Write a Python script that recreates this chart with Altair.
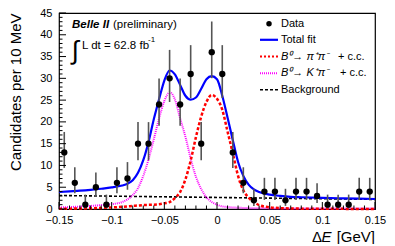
import altair as alt
import pandas as pd

# ---------------- data ----------------
bin_x = [-0.145, -0.135, -0.125, -0.115, -0.105, -0.095, -0.085, -0.075, -0.065, -0.055,
         -0.045, -0.035, -0.025, -0.015, -0.005, 0.005, 0.015, 0.025, 0.035, 0.045,
         0.055, 0.065, 0.075, 0.085, 0.095, 0.105, 0.115, 0.125, 0.135, 0.145]
counts = [13, 6, 1, 5, 1, 6, 7, 15, 15, 24, 30, 24, 31, 15, 36, 31, 13, 6, 2, 4,
          4, 2, 4, 4, 3, 1, 1, 1, 4, 4]
err_low = [9.44, 3.62, 0.17, 2.84, 0.17, 3.62, 4.42, 11.17, 11.17, 19.14,
           24.56, 19.14, 25.47, 11.17, 30.03, 25.47, 9.44, 3.62, 0.71, 2.09,
           2.09, 0.71, 2.09, 2.09, 1.37, 0.17, 0.17, 0.17, 2.09, 2.09]
err_high = [17.69, 9.58, 3.30, 8.38, 3.30, 9.58, 10.77, 19.95, 19.95, 29.96,
            36.53, 29.96, 37.62, 19.95, 43.05, 37.62, 17.69, 9.58, 4.64, 7.16,
            7.16, 4.64, 7.16, 7.16, 5.92, 3.30, 3.30, 3.30, 7.16, 7.16]

curve_x = [-0.15, -0.14, -0.13, -0.12, -0.11, -0.10, -0.09, -0.085, -0.08, -0.075,
           -0.07, -0.065, -0.06, -0.055, -0.05, -0.045, -0.04, -0.035, -0.03, -0.025,
           -0.02, -0.015, -0.01, -0.005, 0.0, 0.005, 0.01, 0.015, 0.02, 0.025,
           0.03, 0.035, 0.04, 0.05, 0.06, 0.07, 0.08, 0.10, 0.12, 0.15]
total_fit = [3.9, 4.05, 4.2, 4.4, 4.65, 4.95, 5.4, 5.8, 6.6, 8.3,
             11.2, 15.4, 20.6, 25.2, 29.5, 31.8, 30.9, 28.5, 26.0, 25.1,
             25.6, 27.6, 29.8, 30.5, 29.8, 26.0, 21.0, 15.8, 10.8, 7.6,
             5.6, 4.5, 3.9, 3.3, 3.0, 2.8, 2.7, 2.55, 2.45, 2.3]
pipi = [0.05, 0.08, 0.12, 0.18, 0.25, 0.35, 0.5, 0.6, 0.7, 0.8,
        0.9, 0.95, 1.0, 1.1, 1.3, 1.6, 2.5, 3.9, 6.8, 11.1,
        16.5, 21.2, 24.6, 26.2, 25.3, 22.8, 17.8, 12.8, 7.6, 4.3,
        2.6, 1.6, 0.9, 0.4, 0.2, 0.12, 0.08, 0.05, 0.03, 0.02]
kpi = [0.35, 0.45, 0.55, 0.7, 0.9, 1.1, 1.6, 2.2, 3.2, 4.8,
       7.6, 11.4, 16.0, 20.8, 24.8, 26.8, 25.2, 20.8, 16.6, 11.6,
       7.4, 4.6, 2.7, 1.6, 1.0, 0.6, 0.45, 0.35, 0.3, 0.25,
       0.2, 0.18, 0.16, 0.14, 0.12, 0.11, 0.1, 0.1, 0.1, 0.1]
bkg_x = [-0.15, -0.10, -0.05, 0.0, 0.05, 0.10, 0.15]
bkg = [3.1, 2.95, 2.8, 2.65, 2.5, 2.35, 2.2]

y_major = [0, 5, 10, 15, 20, 25, 30, 35, 40, 45]
y_minor = [v for v in range(0, 46) if v % 5 != 0]
x_major = [-0.15, -0.10, -0.05, 0.0, 0.05, 0.10, 0.15]
x_minor = [-0.14, -0.13, -0.12, -0.11, -0.09, -0.08, -0.07, -0.06, -0.04, -0.03, -0.02, -0.01,
           0.01, 0.02, 0.03, 0.04, 0.06, 0.07, 0.08, 0.09, 0.11, 0.12, 0.13, 0.14]

# ---------------- layout ----------------
W, H = 316, 196
FONT = "Liberation Sans"

xs = alt.Scale(domain=[-0.15, 0.15], nice=False, zero=False)
ys = alt.Scale(domain=[0, 45], nice=False, zero=False)

data_df = pd.DataFrame({"x": bin_x, "n": counts, "lo": err_low, "hi": err_high})
curve_df = pd.DataFrame({"x": curve_x, "tot": total_fit, "pipi": pipi, "kpi": kpi})
bkg_df = pd.DataFrame({"x": bkg_x, "b": bkg})

x_axis = alt.Axis(values=x_major, format=".2~f", ticks=False, tickSize=0, domain=False,
                  grid=False, title=None, labelFontSize=11, labelFont=FONT,
                  labelColor="black", labelPadding=5, labelFlush=False)
y_axis = alt.Axis(values=y_major, ticks=False, tickSize=0, domain=False, grid=False,
                  title=None, labelFontSize=11, labelFont=FONT,
                  labelColor="black", labelPadding=7)


def X(field):
    return alt.X(field, scale=xs, axis=x_axis)


def Y(field):
    return alt.Y(field, scale=ys, axis=y_axis)


bkg_line = alt.Chart(bkg_df).mark_line(color="black", strokeWidth=1.6, strokeDash=[3, 2]).encode(
    x=X("x:Q"), y=Y("b:Q"))
kpi_line = alt.Chart(curve_df).mark_line(color="#ff00ff", strokeWidth=2, strokeDash=[1, 1],
                                         interpolate="monotone").encode(x=X("x:Q"), y=Y("kpi:Q"))
pipi_line = alt.Chart(curve_df).mark_line(color="#ff0000", strokeWidth=2.5, strokeDash=[3, 2],
                                          interpolate="monotone").encode(x=X("x:Q"), y=Y("pipi:Q"))
tot_line = alt.Chart(curve_df).mark_line(color="#0000ff", strokeWidth=2.2,
                                         interpolate="monotone").encode(x=X("x:Q"), y=Y("tot:Q"))

ebars = alt.Chart(data_df).mark_rule(color="#555555", strokeWidth=1.6).encode(
    x=X("x:Q"), y=Y("lo:Q"), y2="hi:Q")
points = alt.Chart(data_df).mark_circle(color="black", opacity=1, size=40).encode(
    x=X("x:Q"), y=Y("n:Q"))

# inner tick marks
ymaj_df = pd.DataFrame({"v": y_major})
ymin_df = pd.DataFrame({"v": y_minor})
xmaj_df = pd.DataFrame({"v": x_major})
xmin_df = pd.DataFrame({"v": x_minor})
ytick_maj = alt.Chart(ymaj_df).mark_rule(color="black", strokeWidth=1).encode(
    y=Y("v:Q"), x=alt.value(0), x2=alt.value(7))
ytick_min = alt.Chart(ymin_df).mark_rule(color="black", strokeWidth=1).encode(
    y=Y("v:Q"), x=alt.value(0), x2=alt.value(3.5))
xtick_maj = alt.Chart(xmaj_df).mark_rule(color="black", strokeWidth=1).encode(
    x=X("v:Q"), y=alt.value(H), y2=alt.value(H - 7))
xtick_min = alt.Chart(xmin_df).mark_rule(color="black", strokeWidth=1).encode(
    x=X("v:Q"), y=alt.value(H), y2=alt.value(H - 3.5))

one = pd.DataFrame({"a": [0]})


def txt(s, x, y, size=11, style="normal", weight="normal", align="left", angle=0, baseline="middle"):
    return alt.Chart(one).mark_text(text=s, font=FONT, fontSize=size, fontStyle=style,
                                    fontWeight=weight, align=align, baseline=baseline,
                                    angle=angle, color="black").encode(
        x=alt.value(x), y=alt.value(y))


def lrule(y, color, width, dash=None):
    kw = dict(color=color, strokeWidth=width)
    if dash:
        kw["strokeDash"] = dash
    return alt.Chart(one).mark_rule(**kw).encode(x=alt.value(201), x2=alt.value(219), y=alt.value(y))


leg_y = [10.8, 26.8, 43.5, 60.2, 76.8]
legend = [
    alt.Chart(one).mark_circle(color="black", opacity=1, size=30).encode(
        x=alt.value(210), y=alt.value(leg_y[0])),
    txt("Data", 222, leg_y[0]),
    lrule(leg_y[1], "#0000ff", 2.2),
    txt("Total fit", 222, leg_y[1]),
    lrule(leg_y[2], "#ff0000", 2.2, [2, 2]),
    txt("B⁰→ π⁺π⁻", 222, leg_y[2], style="italic"),
    txt("+ c.c.", 279, leg_y[2]),
    lrule(leg_y[3], "#ff00ff", 2, [1, 1]),
    txt("B⁰→ K⁺π⁻", 222, leg_y[3], style="italic"),
    txt("+ c.c.", 281, leg_y[3]),
    lrule(leg_y[4], "black", 1.6, [3, 2]),
    txt("Background", 222, leg_y[4]),
]

labels = [
    txt("Belle II", 13, 11.5, size=11.5, style="italic", weight="bold"),
    txt("(preliminary)", 54, 11.5, size=11.5),
    txt("∫", 16, 37.5, size=26, align="center"),
    txt("L dt = 62.8 fb", 23, 32.5, size=11.5),
    txt("-1", 89, 26.5, size=8),
    txt("Candidates per  10 MeV", -38.5, 0.5, size=15, align="right", angle=270,
        baseline="alphabetic"),
    txt("Δ", 253, 224, size=15),
    txt("E", 262.5, 224, size=15, style="italic"),
    txt("[GeV]", 316, 224, size=15, align="right"),
]

chart = alt.layer(
    bkg_line, kpi_line, pipi_line, tot_line, ebars, points,
    ytick_maj, ytick_min, xtick_maj, xtick_min,
    *legend, *labels
).properties(
    width=W, height=H,
    autosize=alt.AutoSizeParams(type="none"),
    padding={"left": 51, "top": 5, "right": 12, "bottom": 35},
).configure_view(stroke="black", strokeWidth=1.2)

chart.save("out.html", embed_options={"renderer": "svg", "actions": False})
